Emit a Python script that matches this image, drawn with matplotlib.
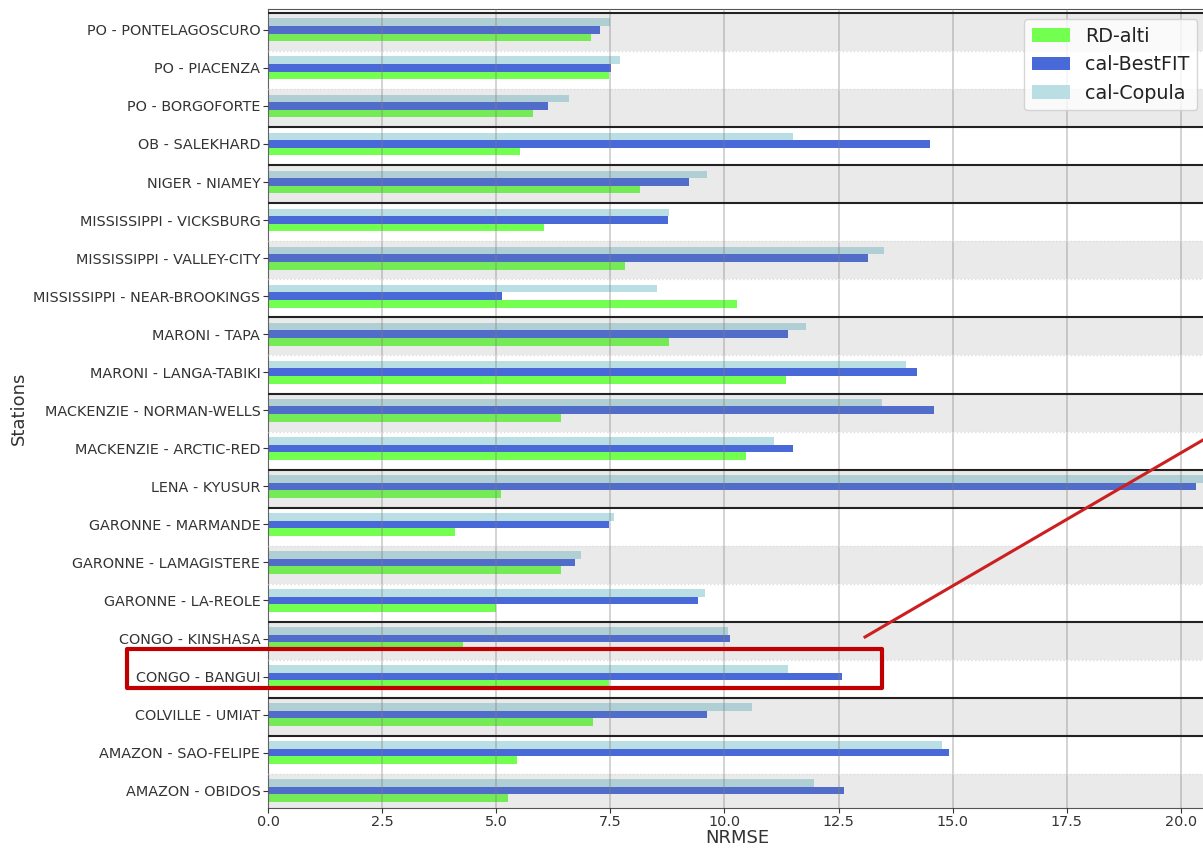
import numpy as np
import matplotlib
matplotlib.use('Agg')
import matplotlib.pyplot as plt
from matplotlib.lines import Line2D
from matplotlib.patches import Rectangle

# Stations from bottom to top of the chart
stations = [
    'AMAZON - OBIDOS', 'AMAZON - SAO-FELIPE', 'COLVILLE - UMIAT',
    'CONGO - BANGUI', 'CONGO - KINSHASA', 'GARONNE - LA-REOLE',
    'GARONNE - LAMAGISTERE', 'GARONNE - MARMANDE', 'LENA - KYUSUR',
    'MACKENZIE - ARCTIC-RED', 'MACKENZIE - NORMAN-WELLS',
    'MARONI - LANGA-TABIKI', 'MARONI - TAPA',
    'MISSISSIPPI - NEAR-BROOKINGS', 'MISSISSIPPI - VALLEY-CITY',
    'MISSISSIPPI - VICKSBURG', 'NIGER - NIAMEY', 'OB - SALEKHARD',
    'PO - BORGOFORTE', 'PO - PIACENZA', 'PO - PONTELAGOSCURO',
]
rd_alti = [5.26, 5.46, 7.13, 7.46, 4.28, 4.99, 6.42, 4.10, 5.10, 10.48, 6.42,
           11.34, 8.78, 10.27, 7.83, 6.05, 8.14, 5.53, 5.81, 7.48, 7.07]
cal_bestfit = [12.62, 14.92, 9.62, 12.57, 10.13, 9.43, 6.73, 7.46, 20.32, 11.49,
               14.60, 14.22, 11.40, 5.13, 13.15, 8.77, 9.23, 14.51, 6.13, 7.51, 7.27]
cal_copula = [11.95, 14.76, 10.60, 11.39, 10.08, 9.57, 6.86, 7.58, 20.9, 11.08,
              13.46, 13.98, 11.79, 8.52, 13.50, 8.78, 9.61, 11.51, 6.59, 7.72, 7.49]

W, H = 1203, 849
fig = plt.figure(figsize=(W / 100, H / 100), dpi=100)
ax = fig.add_axes([268 / W, 1 - 807.7 / H, 939 / W, 798.4 / H])

y = np.arange(len(stations))
bh = 0.2
ax.barh(y - bh, rd_alti, height=bh, color='#73FF50', label='RD-alti', zorder=1)
ax.barh(y, cal_bestfit, height=bh, color='#4A69D8', label='cal-BestFIT', zorder=1)
ax.barh(y + bh, cal_copula, height=bh, color='#B9DFE5', label='cal-Copula', zorder=1)

# row bands sit slightly below the bar groups
off = 0.06
for i in y:
    if i % 2 == 0:
        ax.axhspan(i - 0.5 - off, i + 0.5 - off, color='gray', alpha=0.16, lw=0, zorder=2)

# separators: solid between rivers, dotted inside a river
rivers = [s.split(' - ')[0] for s in stations]
ax.axhline(len(stations) - 0.5 - off, color='#222222', lw=1.5, zorder=3)
for i in range(1, len(stations)):
    if rivers[i] != rivers[i - 1]:
        ax.axhline(i - 0.5 - off, color='#222222', lw=1.5, zorder=3)
    else:
        ax.axhline(i - 0.5 - off, color='#dddddd', lw=1, ls=':', zorder=3)

ax.set_xlim(0, 20.57)
ax.set_ylim(-0.447, 20.54)
ax.set_yticks(y)
ax.set_yticklabels(stations)
ax.set_xticks(np.arange(0, 20.1, 2.5))
ax.tick_params(labelsize=10.4, colors='#333333', pad=2)
ax.grid(axis='x', color='gray', alpha=0.4, lw=1.2, zorder=2.5)
ax.set_axisbelow(False)
for sp in ax.spines.values():
    sp.set_color('#555555')

ax.set_xlabel('NRMSE', fontsize=13, color='#333333', labelpad=0)
ax.set_ylabel('Stations', fontsize=13, color='#333333')
leg = ax.legend(loc='upper right', fontsize=13.8)
for t in leg.get_texts():
    t.set_color('#222222')

# red highlight annotation
fig.add_artist(Rectangle((127 / W, 1 - 687.5 / H), 755 / W, 38.5 / H,
                         transform=fig.transFigure, fill=False,
                         edgecolor='#C00000', lw=3, joinstyle='round'))
fig.add_artist(Line2D([865 / W, 1203 / W], [1 - 637 / H, 1 - 440 / H],
                      transform=fig.transFigure, color='#CC2020', lw=2.2))

plt.savefig('out.png', dpi=100)
